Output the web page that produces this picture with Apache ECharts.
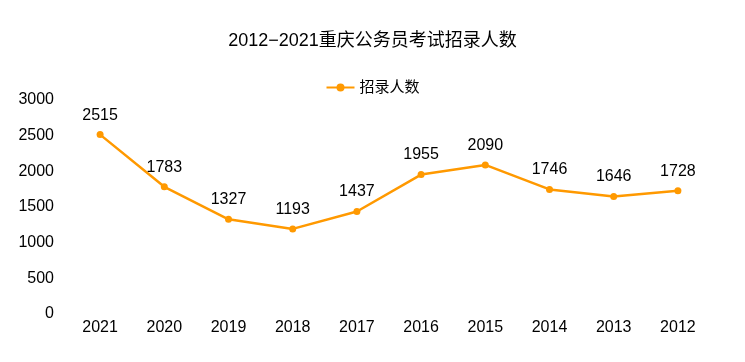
<!DOCTYPE html>
<html><head><meta charset="utf-8">
<script src="https://cdn.jsdelivr.net/npm/echarts@6/dist/echarts.min.js"></script>
<style>html,body{margin:0;padding:0;background:#fff}#c{width:745px;height:362px}</style>
</head><body><div id="c"></div>
<script>
var categories = ['2021','2020','2019','2018','2017','2016','2015','2014','2013','2012'];
var values = [2515,1783,1327,1193,1437,1955,2090,1746,1646,1728];
var seriesName = '招录人数';
var titleText = '2012−2021重庆公务员考试招录人数';
var FF = '"Liberation Sans", Arial, "Noto Sans CJK SC", sans-serif';
var chart = echarts.init(document.getElementById('c'));
chart.setOption({
  backgroundColor: '#fff',
  animation: false,
  title: {text: titleText, left: 'center', top: 27, textStyle: {fontFamily: FF, fontSize: 18, fontWeight: 'normal', color: '#000'}},
  legend: {data: [seriesName], top: 75, left: 'center', itemWidth: 28, itemHeight: 10, itemGap: 6, textStyle: {fontFamily: FF, fontSize: 15, color: '#000'}},
  grid: {left: 68, right: 35, top: 100, bottom: 48},
  xAxis: {type: 'category', data: categories, boundaryGap: true,
    axisLine: {show: false}, axisTick: {show: false},
    axisLabel: {fontFamily: FF, fontSize: 16, color: '#000', margin: 6}},
  yAxis: {type: 'value', min: 0, max: 3000, interval: 500,
    axisLine: {show: false}, axisTick: {show: false}, splitLine: {show: false},
    axisLabel: {fontFamily: FF, fontSize: 16, color: '#000', margin: 14, formatter: function (v) { return String(v); }}},
  series: [{name: seriesName, type: 'line', data: values, color: '#FF9900',
    symbol: 'circle', symbolSize: 7, lineStyle: {width: 2.5, color: '#FF9900'},
    itemStyle: {color: '#FF9900'},
    label: {show: true, position: 'top', distance: 8, fontFamily: FF, fontSize: 16, color: '#000'}}]
});
</script></body></html>
